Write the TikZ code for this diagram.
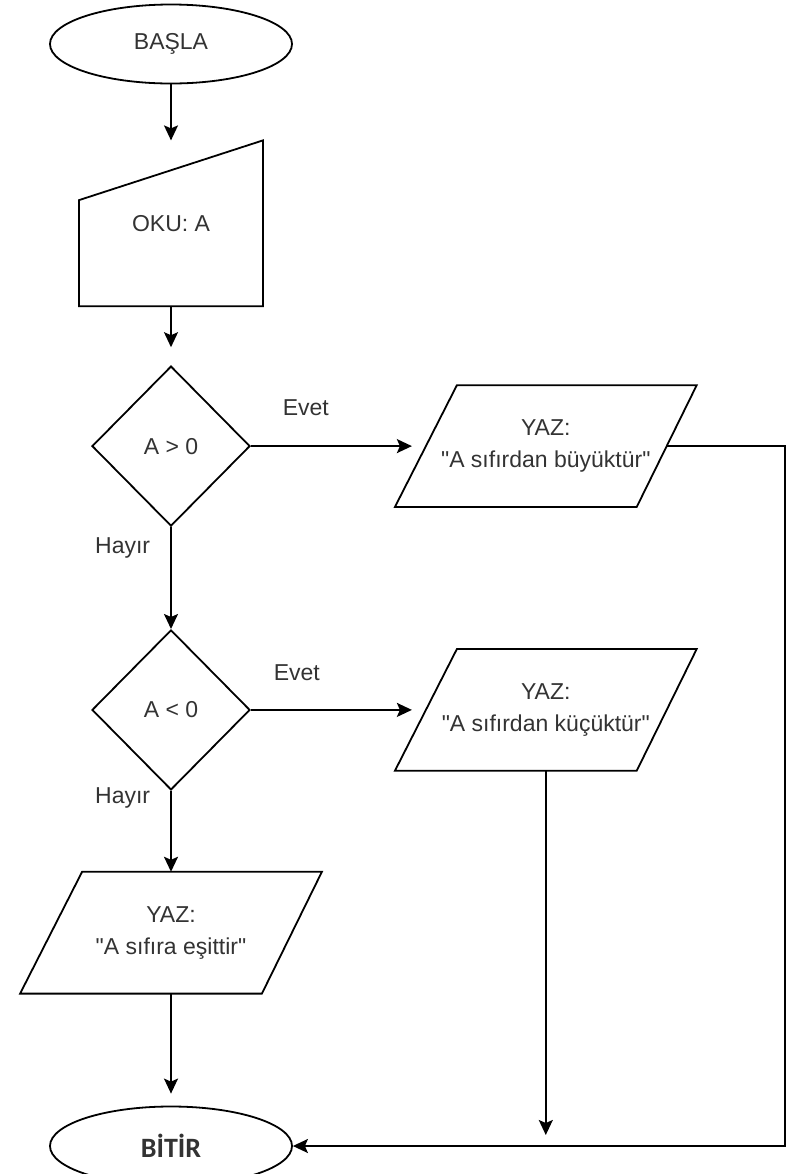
\documentclass[tikz,border=0pt]{standalone}
\usepackage{fontspec}
\setmainfont{Liberation Sans}
\newfontfamily\bitirfont{Carlito}
\usetikzlibrary{calc,shapes.geometric,arrows.meta,positioning}

\begin{document}
\begin{tikzpicture}[node distance=28pt, line width=0.9pt,
        >={Stealth[length=7.5pt,width=7pt,inset=1.5pt]},
        every node/.style={text=black!80, font=\fontsize{11.5}{16}\selectfont, align=center},
        terminal/.style={draw, ellipse, minimum width=121pt, minimum height=39.5pt, inner sep=0pt},
        readbox/.style={minimum width=91pt, minimum height=82pt, inner sep=0pt},
        decision/.style={draw, diamond, aspect=1, minimum width=79pt, minimum height=80pt, inner sep=0pt},
        printbox/.style={minimum width=150pt, minimum height=60pt, inner sep=0pt},
        branch/.style={inner sep=0pt}]
                \useasboundingbox (-85.5pt,22pt) rectangle (308.5pt,-565pt);

                % Start
                \node (start) [terminal] {BAŞLA};

                % Input
                \node (read) [readbox, below=28pt of start] {OKU: A};
                \draw (read.south west) -- (read.south east) -- (read.north east)
                    -- ($(read.north west)!0.36!(read.south west)$) -- cycle;

                % Decisions
                \node (dec1) [decision, below=29.5pt of read] {A > 0};
                \node (dec2) [decision, below=51pt of dec1] {A < 0};

                % Outputs
                \node (out1) [printbox, right=72pt of dec1] {YAZ:\\\textquotedbl A sıfırdan büyüktür\textquotedbl};
                \node (out2) [printbox, right=72pt of dec2] {YAZ:\\\textquotedbl A sıfırdan küçüktür\textquotedbl};
                \node (out3) [printbox, below=40.5pt of dec2] {YAZ:\\\textquotedbl A sıfıra eşittir\textquotedbl};
                \foreach \n in {out1,out2,out3}
                    \draw ($(\n.north west)+(31pt,0)$) -- (\n.north east)
                        -- ($(\n.south east)+(-30pt,0)$) -- (\n.south west) -- cycle;

                % End
                \node (stop) [terminal, below=56pt of out3, font=\bitirfont\bfseries\fontsize{14}{16}\selectfont] {BİTİR};

                % Labels
                \node (evet1) [branch, above right=14.75pt and 15.5pt of dec1.east] {Evet};
                \node (evet2) [branch, above right=14.25pt and 11pt of dec2.east] {Evet};
                \node (hayir1) [branch, below left=5pt and 10pt of dec1.south] {Hayır};
                \node (hayir2) [branch, below left=-2.25pt and 10pt of dec2.south] {Hayır};

                % Connections
                \draw[->] (start) -- (read);
                \draw[->, shorten >=9pt] (read) -- (dec1);
                \draw[->] (dec1) -- (dec2);
                \draw[->] (dec2) -- (out3);
                \draw[->, shorten >=6pt] (out3) -- (stop);
                \draw[->] (dec1) -- ($(out1.west)+(8.5pt,0)$);
                \draw[->] (dec2) -- ($(out2.west)+(8.5pt,0)$);
                \draw[->] ($(out1.east)+(-15pt,0)$) -- ++(59pt,0) |- (stop.east);
                \draw[->, shorten >=5.5pt] (out2) -- (out2 |- stop.east);
            \end{tikzpicture}
\end{document}
